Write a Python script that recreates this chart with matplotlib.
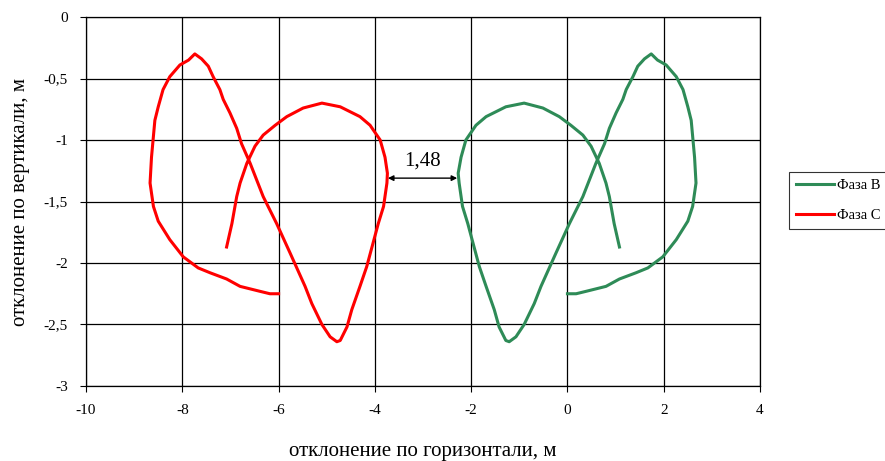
import matplotlib.pyplot as plt
from matplotlib.ticker import FuncFormatter

# Фаза C (red) trajectory, m
phase_c_x = [-6.00, -6.18, -6.39, -6.80, -7.08, -7.42, -7.67, -7.98, -8.26, -8.50, -8.60,
             -8.67, -8.64, -8.57, -8.50, -8.40, -8.26, -8.05, -7.87, -7.74, -7.60, -7.46,
             -7.36, -7.22, -7.15, -7.01, -6.87, -6.77, -6.59, -6.32, -6.04, -5.76, -5.45,
             -5.31, -5.10, -4.93, -4.79, -4.72, -4.58, -4.48, -4.31, -4.17, -4.06, -3.93,
             -3.82, -3.75, -3.74, -3.79, -3.89, -4.10, -4.31, -4.72, -5.10, -5.49, -5.83,
             -6.07, -6.32, -6.49, -6.66, -6.80, -6.87, -6.97, -7.08]
phase_c_y = [-2.25, -2.25, -2.23, -2.19, -2.13, -2.08, -2.04, -1.95, -1.81, -1.66, -1.54,
             -1.35, -1.14, -0.84, -0.73, -0.59, -0.485, -0.39, -0.35, -0.30, -0.34, -0.40,
             -0.485, -0.59, -0.67, -0.78, -0.905, -1.03, -1.19, -1.46, -1.68, -1.92, -2.19,
             -2.33, -2.50, -2.60, -2.64, -2.63, -2.52, -2.38, -2.19, -2.03, -1.87, -1.68,
             -1.54, -1.35, -1.27, -1.14, -1.00, -0.88, -0.81, -0.73, -0.70, -0.74, -0.81,
             -0.88, -0.96, -1.05, -1.19, -1.35, -1.46, -1.68, -1.87]

# Фаза B (green) trajectory, m
phase_b_x = [0.00, 0.18, 0.39, 0.80, 1.08, 1.42, 1.67, 1.98, 2.26, 2.50, 2.60,
             2.67, 2.64, 2.57, 2.50, 2.40, 2.26, 2.05, 1.87, 1.74, 1.60, 1.46,
             1.36, 1.22, 1.15, 1.01, 0.87, 0.77, 0.59, 0.32, 0.04, -0.24, -0.55,
             -0.69, -0.90, -1.07, -1.21, -1.28, -1.42, -1.52, -1.69, -1.83, -1.94, -2.07,
             -2.18, -2.25, -2.27, -2.21, -2.11, -1.90, -1.69, -1.28, -0.90, -0.51, -0.17,
             0.07, 0.32, 0.49, 0.66, 0.80, 0.87, 0.97, 1.08]
phase_b_y = phase_c_y[:]

gap_label = '1,48'
gap_x = [-3.73, -2.29]
gap_y = -1.31

plt.rcParams['font.family'] = ['Liberation Serif', 'DejaVu Serif']

fig = plt.figure(figsize=(8.85, 4.61), dpi=100)
ax = fig.add_axes([0.0972, 0.1627, 0.7616, 0.8004])

ax.plot(phase_b_x, phase_b_y, color='#2E8B57', lw=2.2, label='Фаза B')
ax.plot(phase_c_x, phase_c_y, color='#FF0000', lw=2.2, label='Фаза C')

ax.annotate('', xy=(gap_x[0], gap_y), xytext=(gap_x[1], gap_y),
            arrowprops=dict(arrowstyle='<|-|>', color='black', lw=1,
                            mutation_scale=8, shrinkA=0, shrinkB=0))
ax.text(sum(gap_x) / 2, gap_y + 0.06, gap_label, ha='center', va='bottom', fontsize=15)

fmt = FuncFormatter(lambda v, p: ('%g' % v).replace('.', ','))
ax.set_xlim(-10, 4)
ax.set_ylim(-3, 0)
ax.set_xticks(range(-10, 5, 2))
ax.set_yticks([0, -0.5, -1, -1.5, -2, -2.5, -3])
ax.xaxis.set_major_formatter(fmt)
ax.yaxis.set_major_formatter(fmt)
ax.grid(True, color='black', lw=0.9)
ax.tick_params(direction='out', length=4, labelsize=11, pad=9, color='black')
for s in ax.spines.values():
    s.set_color('black')
    s.set_linewidth(0.9)

ax.set_xlabel('отклонение по горизонтали, м', fontsize=15, labelpad=18)
ax.set_ylabel('отклонение по вертикали, м', fontsize=15, labelpad=10)

leg = fig.legend(loc='upper left', bbox_to_anchor=(0.891, 0.627), fontsize=10.5,
                 frameon=True, fancybox=False, edgecolor='black', handlelength=2.6,
                 handletextpad=0.2, labelspacing=1.1, borderaxespad=0, borderpad=0.5)
leg.get_frame().set_linewidth(0.8)

fig.savefig('out.png', dpi=100)
